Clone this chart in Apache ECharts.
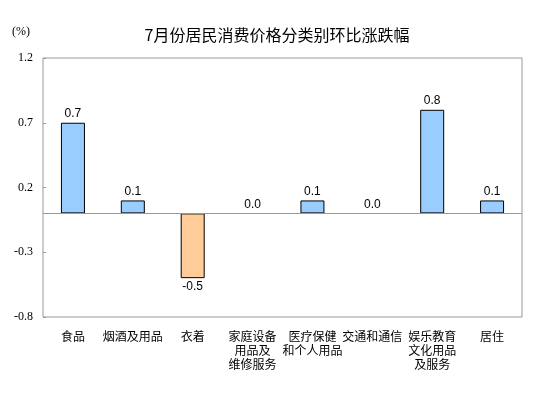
<!DOCTYPE html>
<html>
<head>
<meta charset="utf-8">
<script src="https://cdn.jsdelivr.net/npm/echarts@6/dist/echarts.min.js"></script>
<style>
  html, body { margin: 0; padding: 0; background: #fff; }
  #main { width: 554px; height: 398px; }
</style>
</head>
<body>
<div id="main"></div>
<script>
// 分类
var categories = ['食品', '烟酒及用品', '衣着', '家庭设备\n用品及\n维修服务', '医疗保健\n和个人用品', '交通和通信', '娱乐教育\n文化用品\n及服务', '居住'];
// 环比涨跌幅(%)
var values = [0.7, 0.1, -0.5, 0.0, 0.1, 0.0, 0.8, 0.1];
// y轴刻度
var yTicks = [-0.8, -0.3, 0.2, 0.7, 1.2];

var myChart = echarts.init(document.getElementById('main'));

myChart.setOption({
  animation: false,
  title: {
    text: '7月份居民消费价格分类别环比涨跌幅',
    left: 'center',
    top: 22,
    textStyle: {
      fontFamily: 'Noto Sans CJK SC',
      fontSize: 16,
      fontWeight: 'normal',
      color: '#000'
    }
  },
  graphic: [{
    type: 'text',
    left: 12,
    top: 26,
    style: {
      text: '(%)',
      font: '12px "Liberation Serif"',
      fill: '#000'
    }
  }],
  grid: {
    left: 43,
    right: 32,
    top: 58,
    bottom: 81,
    show: true,
    borderColor: '#999',
    borderWidth: 1
  },
  xAxis: {
    type: 'category',
    data: categories,
    axisLine: { show: false },
    axisTick: { show: false },
    axisLabel: {
      interval: 0,
      margin: 12,
      fontFamily: 'Noto Sans CJK SC',
      fontSize: 12,
      lineHeight: 14,
      color: '#000'
    }
  },
  yAxis: {
    type: 'value',
    min: -0.8,
    max: 1.2,
    splitLine: { show: false },
    axisLine: { show: false },
    axisTick: {
      show: true,
      inside: true,
      length: 3,
      customValues: yTicks,
      lineStyle: { color: '#999' }
    },
    axisLabel: {
      customValues: yTicks,
      margin: 10,
      fontFamily: 'Liberation Serif',
      fontSize: 12,
      color: '#000',
      formatter: function (v) { return v.toFixed(1); }
    }
  },
  series: [{
    type: 'bar',
    data: values.map(function (v) {
      return {
        value: v,
        itemStyle: {
          color: v < 0 ? '#FFCC99' : '#99CCFF',
          borderWidth: v === 0 ? 0 : 1
        },
        label: { position: v < 0 ? 'bottom' : 'top' }
      };
    }),
    barWidth: 24,
    itemStyle: {
      borderColor: '#000',
      borderWidth: 1
    },
    label: {
      show: true,
      distance: 3,
      fontFamily: 'Liberation Sans',
      fontSize: 12,
      color: '#000',
      formatter: function (p) { return p.value.toFixed(1); }
    },
    markLine: {
      silent: true,
      symbol: 'none',
      label: { show: false },
      lineStyle: { color: '#999', type: 'solid', width: 1 },
      data: [{ yAxis: 0 }]
    }
  }]
});
</script>
</body>
</html>
